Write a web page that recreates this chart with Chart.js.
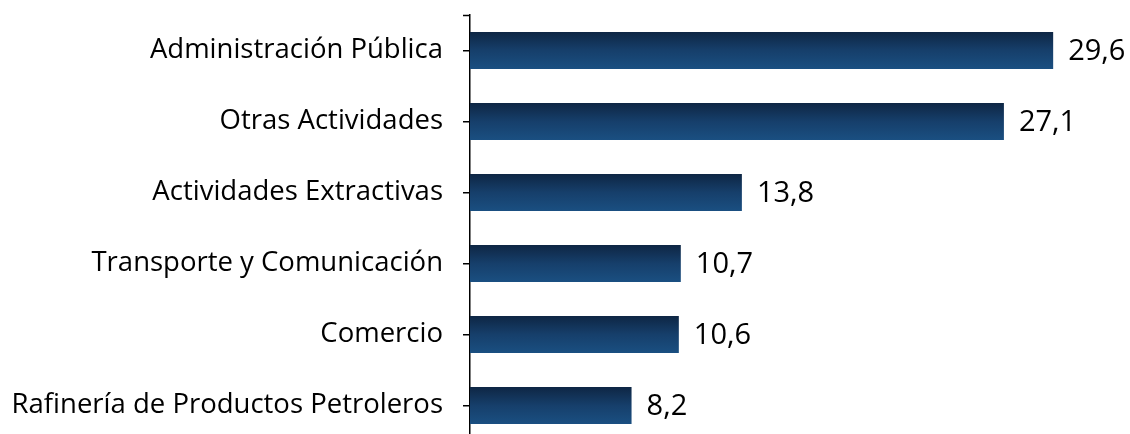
<!DOCTYPE html>
<html>
<head>
<meta charset="utf-8">
<script src="https://cdn.jsdelivr.net/npm/chart.js@4/dist/chart.umd.min.js"></script>
<style>
  html, body { margin: 0; padding: 0; background: #fff; overflow: hidden; }
  #wrap { width: 1130px; height: 441px; }
</style>
</head>
<body>
<div id="wrap"><canvas id="chart" width="1130" height="441"></canvas></div>
<script>
// data
const sectors = [
    'Administración Pública',
    'Otras Actividades',
    'Actividades Extractivas',
    'Transporte y Comunicación',
    'Comercio',
    'Rafinería de Productos Petroleros'
];
const shares = [29.6, 27.1, 13.8, 10.7, 10.6, 8.2];

const FONT = '"Open Sans", "Noto Sans", sans-serif';

// per-bar vertical gradient, dark on top
function barGradient(context) {
    const chart = context.chart;
    const yScale = chart.scales.y;
    if (!chart.chartArea || !yScale || context.dataIndex === undefined) return '#163e6a';
    const center = yScale.getPixelForValue(context.dataIndex);
    const step = yScale.getPixelForValue(1) - yScale.getPixelForValue(0);
    if (!Number.isFinite(center) || !Number.isFinite(step)) return '#163e6a';
    const top = center - step * 0.26;
    const bottom = center + step * 0.26;
    const g = chart.ctx.createLinearGradient(0, top, 0, bottom);
    g.addColorStop(0, '#0e2644');
    g.addColorStop(0.5, '#163f6b');
    g.addColorStop(1, '#1a4f81');
    return g;
}

const valueLabels = {
    id: 'valueLabels',
    afterDatasetsDraw(chart) {
        const ctx = chart.ctx;
        const meta = chart.getDatasetMeta(0);
        ctx.save();
        ctx.font = '29px ' + FONT;
        ctx.fillStyle = '#000';
        ctx.textAlign = 'left';
        ctx.textBaseline = 'middle';
        meta.data.forEach((bar, i) => {
            ctx.fillText(shares[i].toFixed(1).replace('.', ','), bar.x + 15, bar.y + 1);
        });
        ctx.restore();
    }
};

// small cap at the top end of the category axis
const axisCap = {
    id: 'axisCap',
    afterDraw(chart) {
        const a = chart.chartArea;
        const ctx = chart.ctx;
        ctx.save();
        ctx.strokeStyle = '#000';
        ctx.lineWidth = 1.5;
        ctx.beginPath();
        ctx.moveTo(a.left - 7, a.top + 0.5);
        ctx.lineTo(a.left, a.top + 0.5);
        ctx.stroke();
        ctx.restore();
    }
};

new Chart(document.getElementById('chart'), {
    type: 'bar',
    data: {
        labels: sectors,
        datasets: [{
            data: shares,
            backgroundColor: barGradient,
            borderWidth: 0,
            barPercentage: 0.52,
            categoryPercentage: 1
        }]
    },
    options: {
        indexAxis: 'y',
        responsive: false,
        animation: false,
        layout: { padding: { top: 15, right: 0, bottom: 0, left: 0 } },
        plugins: {
            legend: { display: false },
            tooltip: { enabled: false }
        },
        scales: {
            x: {
                display: false,
                min: 0,
                max: 33.5
            },
            y: {
                afterFit(scale) {
                    scale.width = 470;
                    scale.paddingTop = 0;
                    scale.paddingBottom = 0;
                },
                border: { display: true, color: '#000', width: 1.5 },
                grid: {
                    offset: false,
                    drawOnChartArea: false,
                    drawTicks: true,
                    tickLength: 7,
                    color: '#000',
                    lineWidth: 1.5
                },
                ticks: {
                    color: '#000',
                    padding: 20,
                    font: { family: FONT, size: 27.5 }
                }
            }
        }
    },
    plugins: [valueLabels, axisCap]
});
</script>
</body>
</html>
